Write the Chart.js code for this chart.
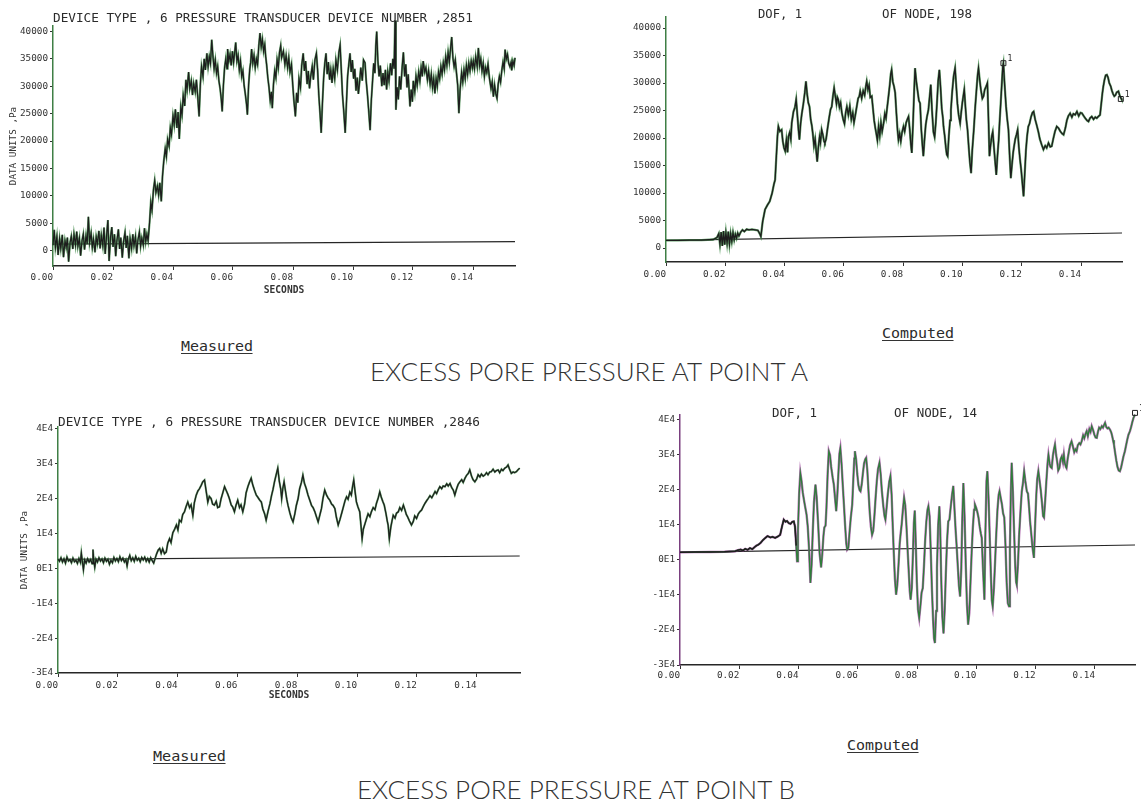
<!DOCTYPE html>
<html>
<head>
<meta charset="utf-8">
<script src="https://cdn.jsdelivr.net/npm/chart.js@4.4.0/dist/chart.umd.min.js"></script>
<style>
  body { margin: 0; width: 1141px; height: 805px; position: relative; overflow: hidden; background: #fff; color: #2b2b2b; }
  canvas { position: absolute; }
  .lbl { position: absolute; white-space: pre; font-family: "DejaVu Sans Mono", monospace; transform-origin: 0 0; }
  .ttl { font-size: 13px; line-height: 13px; }
  .dof { font-size: 12.5px; line-height: 12.5px; }
  .cap { font-size: 14px; line-height: 14px; border-bottom: 1px solid #333; }
  .head { font-family: Lato, "DejaVu Sans", sans-serif; font-weight: 300; font-size: 26px; line-height: 26px; color: #333; }
</style>
</head>
<body>
<canvas id="aMeas" width="540" height="300" style="left:0;top:0"></canvas>
<canvas id="aComp" width="541" height="300" style="left:600px;top:0"></canvas>
<canvas id="bMeas" width="540" height="305" style="left:0;top:400px"></canvas>
<canvas id="bComp" width="541" height="290" style="left:600px;top:400px"></canvas>

<div class="lbl ttl" data-w="420" style="left:53px;top:11px">DEVICE TYPE , 6 PRESSURE TRANSDUCER DEVICE NUMBER ,2851</div>
<div class="lbl dof" data-w="44" style="left:758px;top:8px">DOF, 1</div>
<div class="lbl dof" data-w="90" style="left:882px;top:8px">OF NODE, 198</div>
<div class="lbl cap" data-w="72" style="left:181px;top:339px">Measured</div>
<div class="lbl cap" data-w="72" style="left:882px;top:326px">Computed</div>
<div class="lbl head" data-w="438" style="left:370px;top:358px">EXCESS PORE PRESSURE AT POINT A</div>

<div class="lbl ttl" data-w="422" style="left:58px;top:415px">DEVICE TYPE , 6 PRESSURE TRANSDUCER DEVICE NUMBER ,2846</div>
<div class="lbl dof" data-w="45" style="left:772px;top:407px">DOF, 1</div>
<div class="lbl dof" data-w="83" style="left:894px;top:407px">OF NODE, 14</div>
<div class="lbl cap" data-w="73" style="left:153px;top:749px">Measured</div>
<div class="lbl cap" data-w="72" style="left:847px;top:738px">Computed</div>
<div class="lbl head" data-w="438" style="left:357px;top:776px">EXCESS PORE PRESSURE AT POINT B</div>

<script>
// tick values and labels
const X_TICKS = [0, 0.02, 0.04, 0.06, 0.08, 0.10, 0.12, 0.14];
const X_LABELS = ['0.00', '0.02', '0.04', '0.06', '0.08', '0.10', '0.12', '0.14'];
const Y_TICKS_A = [0, 5000, 10000, 15000, 20000, 25000, 30000, 35000, 40000];
const Y_LABELS_A = ['0', '5000', '10000', '15000', '20000', '25000', '30000', '35000', '40000'];
const Y_TICKS_B = [-30000, -20000, -10000, 0, 10000, 20000, 30000, 40000];
const Y_LABELS_B = ['-3E4', '-2E4', '-1E4', '0E1', '1E4', '2E4', '3E4', '4E4'];

// [seconds, Pa]
const A_MEASURED = [
  [0.0000,1000],[0.0004,3800],[0.0008,600],[0.0013,2600],[0.0017,-800],[0.0022,2200],[0.0026,400],[0.0031,2900],[0.0035,-1200],[0.0040,1800],
  [0.0044,600],[0.0048,2400],[0.0052,-2000],[0.0057,1500],[0.0061,2600],[0.0066,300],[0.0070,3000],[0.0075,1000],[0.0079,3500],[0.0083,800],
  [0.0088,2300],[0.0092,-900],[0.0097,1900],[0.0101,3000],[0.0105,200],[0.0110,2700],[0.0114,1200],[0.0118,6200],[0.0122,1500],[0.0127,3200],
  [0.0131,600],[0.0135,2100],[0.0140,-300],[0.0144,2500],[0.0148,1300],[0.0153,3600],[0.0157,400],[0.0161,2800],[0.0166,900],[0.0170,4200],
  [0.0174,-600],[0.0179,3000],[0.0183,5600],[0.0187,-1900],[0.0192,2600],[0.0196,4300],[0.0200,700],[0.0205,3000],[0.0209,-1000],[0.0213,1800],
  [0.0218,3900],[0.0222,300],[0.0226,2400],[0.0231,-1300],[0.0235,1600],[0.0240,3300],[0.0244,500],[0.0248,2700],[0.0253,-1400],[0.0257,2200],
  [0.0262,400],[0.0266,3000],[0.0270,900],[0.0275,2600],[0.0279,-500],[0.0283,1900],[0.0288,3400],[0.0292,800],[0.0296,2300],[0.0301,1000],
  [0.0305,4100],[0.0309,1600],[0.0313,3000],[0.0317,1800],
  [0.0322,5200],[0.0326,8800],[0.0330,7400],[0.0335,11200],[0.0339,12800],[0.0343,10600],[0.0348,11800],[0.0352,10200],[0.0356,12400],[0.0361,9000],
  [0.0365,13600],[0.0369,16200],[0.0374,18600],[0.0378,17200],[0.0382,20300],[0.0387,19100],[0.0391,22400],[0.0395,21200],[0.0400,24600],[0.0404,23000],
  [0.0408,25800],[0.0413,22400],[0.0417,25300],[0.0421,20400],[0.0426,26200],[0.0430,24800],
  [0.0434,28300],[0.0439,26400],[0.0443,31200],[0.0447,29400],[0.0452,32600],[0.0456,29600],[0.0461,31000],[0.0465,28400],[0.0469,30500],[0.0474,29000],
  [0.0478,31200],[0.0482,28400],[0.0487,24500],[0.0491,30200],[0.0495,33600],[0.0500,31800],[0.0504,35000],[0.0508,33000],[0.0513,36000],[0.0517,33600],
  [0.0521,35400],[0.0525,34200],[0.0529,38500],[0.0533,35600],[0.0537,33200],[0.0541,34800],[0.0545,32400],[0.0549,33600],[0.0553,31000],[0.0557,29600],
  [0.0561,27600],[0.0564,25400],[0.0568,30200],[0.0572,33400],[0.0576,35000],[0.0580,33200],[0.0582,36800],[0.0586,34600],[0.0590,35800],[0.0594,33800],
  [0.0598,36400],[0.0602,34400],[0.0606,36400],[0.0609,38000],[0.0613,34600],[0.0617,35600],[0.0621,33000],[0.0625,34600],[0.0629,31800],[0.0633,32800],
  [0.0637,30200],[0.0641,28600],[0.0645,26800],[0.0648,24800],[0.0652,30200],[0.0656,33200],[0.0659,34400],[0.0662,36800],[0.0666,34200],[0.0670,35600],
  [0.0674,33400],[0.0678,35000],[0.0682,34000],[0.0686,37400],[0.0690,39700],[0.0694,37200],[0.0698,38600],[0.0702,36400],[0.0706,37600],[0.0709,35400],
  [0.0712,34000],[0.0716,31600],[0.0720,29800],[0.0724,27400],[0.0728,29000],[0.0731,26000],[0.0735,30400],[0.0739,32800],[0.0743,31600],[0.0747,34800],
  [0.0751,33400],[0.0755,36200],[0.0759,37400],[0.0762,35200],[0.0768,36400],[0.0773,34000],[0.0777,35600],[0.0782,33400],[0.0786,35200],[0.0790,32600],
  [0.0795,34000],[0.0799,30400],[0.0803,27400],[0.0808,24500],[0.0812,28800],[0.0816,27000],[0.0820,31400],[0.0825,29800],[0.0829,33800],[0.0834,36000],
  [0.0838,32800],[0.0842,34600],[0.0847,30400],[0.0851,32800],[0.0855,29600],[0.0859,31800],[0.0864,33600],[0.0868,31200],[0.0873,34800],[0.0878,36000],
  [0.0882,33000],[0.0886,28400],[0.0890,25200],[0.0894,21500],[0.0898,26800],[0.0902,31400],[0.0906,34200],[0.0910,36000],[0.0914,32200],[0.0918,34400],
  [0.0922,31200],[0.0926,33000],[0.0930,30600],[0.0934,33200],[0.0939,31400],[0.0943,34800],[0.0948,33000],[0.0953,36200],[0.0957,37500],[0.0961,33000],
  [0.0965,28400],[0.0969,25600],[0.0974,21500],[0.0978,26800],[0.0982,31800],[0.0986,34000],[0.0990,36000],[0.0994,32600],[0.0998,34800],[0.1002,31400],
  [0.1006,33200],[0.1010,29200],[0.1014,31600],[0.1018,28600],[0.1022,30800],[0.1026,33400],[0.1031,31000],[0.1035,34800],[0.1040,34300],[0.1044,31000],
  [0.1048,28600],[0.1052,25800],[0.1057,22000],[0.1061,27400],[0.1065,30800],[0.1069,34200],[0.1073,32400],[0.1076,37400],[0.1079,40000],[0.1083,34600],
  [0.1087,31800],[0.1091,33800],[0.1096,30000],[0.1100,32400],[0.1104,30200],[0.1108,33000],[0.1112,29400],[0.1116,32600],[0.1120,31000],[0.1125,34200],
  [0.1129,32000],[0.1133,35000],[0.1137,33200],[0.1140,42000],[0.1143,25700],[0.1147,29800],[0.1151,27600],[0.1155,31800],[0.1159,29400],[0.1164,33600],
  [0.1168,36200],[0.1172,31800],[0.1176,34000],[0.1180,29800],[0.1184,32200],[0.1188,28200],[0.1190,26300],[0.1194,29400],[0.1198,27200],[0.1201,31000],
  [0.1206,29000],[0.1210,31800],[0.1214,30200],[0.1219,32600],[0.1223,31000],[0.1227,33400],[0.1231,31800],[0.1234,34600],[0.1239,32600],[0.1243,33400],
  [0.1248,31200],[0.1252,32800],[0.1257,30400],[0.1261,32200],[0.1265,29800],[0.1269,31400],[0.1273,28700],[0.1277,31400],[0.1281,30000],[0.1285,32600],
  [0.1289,31400],[0.1293,33600],[0.1297,32200],[0.1301,34300],[0.1305,33000],[0.1309,35400],[0.1313,33800],[0.1317,36200],[0.1321,34400],[0.1325,36800],
  [0.1329,39000],[0.1333,35200],[0.1337,33600],[0.1341,34800],[0.1345,32400],[0.1349,30200],[0.1353,25100],[0.1357,29400],[0.1362,32500],[0.1366,30800],
  [0.1370,33000],[0.1374,31400],[0.1378,33800],[0.1382,32200],[0.1386,34200],[0.1390,32800],[0.1394,34600],[0.1398,33400],[0.1401,34600],[0.1405,33200],
  [0.1409,35400],[0.1414,33600],[0.1418,37000],[0.1422,33800],[0.1426,35000],[0.1430,32800],[0.1434,34200],[0.1438,31800],[0.1442,33400],[0.1446,32500],
  [0.1450,34000],[0.1455,31400],[0.1460,29600],[0.1464,30800],[0.1468,28100],[0.1472,30200],[0.1476,28600],[0.1480,27800],[0.1484,30400],[0.1488,31800],
  [0.1492,30800],[0.1496,32900],[0.1500,34400],[0.1504,33200],[0.1507,36700],[0.1511,35000],[0.1515,35800],[0.1519,34200],[0.1523,33600],[0.1527,34400],
  [0.1529,32900],[0.1533,34600],[0.1537,33800],[0.1540,35200]
];
const A_COMPUTED = [
  [0,1380],[0.004,1400],[0.008,1420],[0.012,1450],[0.0159,1550],[0.0172,1900],[0.0178,2600],[0.0182,700],[0.0186,2900],[0.0190,400],
  [0.0194,3100],[0.0198,600],[0.0202,2800],[0.0206,900],[0.0210,3000],[0.0214,700],[0.0218,2600],[0.0222,1200],[0.0226,2800],[0.0230,1500],
  [0.0234,2500],[0.0238,1800],[0.0242,2700],[0.0246,2200],[0.0252,2900],[0.0258,3300],[0.0264,3000],[0.0272,3400],[0.0280,3300],[0.0290,3400],
  [0.0300,3300],[0.0310,3200],[0.0317,2500],[0.0320,2100],[0.0326,4800],[0.0334,7000],[0.0342,7800],[0.0350,8500],[0.0358,10000],[0.0364,11600],
  [0.0368,12400],[0.0372,16500],[0.0376,20400],[0.0379,22100],[0.0384,21200],[0.0390,21500],[0.0394,19400],[0.0398,18200],[0.0402,17600],[0.0406,19600],
  [0.0410,17400],[0.0413,20300],[0.0417,21000],[0.0421,19800],[0.0424,22700],[0.0430,24800],[0.0435,25600],[0.0439,27000],[0.0443,24200],[0.0447,21400],
  [0.0450,19700],[0.0454,22600],[0.0458,24400],[0.0463,26100],[0.0468,28200],[0.0472,30300],[0.0476,28000],[0.0480,26400],[0.0484,25700],[0.0488,23400],
  [0.0492,22200],[0.0495,20900],[0.0499,18600],[0.0503,19800],[0.0507,17400],[0.0510,15700],[0.0514,18400],[0.0518,20200],[0.0521,19200],[0.0525,21500],
  [0.0529,20600],[0.0533,19400],[0.0536,19100],[0.0540,19800],[0.0545,21800],[0.0550,23600],[0.0555,25200],[0.0559,25700],[0.0563,27600],[0.0567,29100],
  [0.0571,27600],[0.0575,26200],[0.0578,27400],[0.0581,27000],[0.0585,25600],[0.0589,26400],[0.0593,24600],[0.0598,23300],[0.0602,22600],[0.0606,24600],
  [0.0610,25700],[0.0615,24200],[0.0620,25800],[0.0625,23400],[0.0630,24600],[0.0634,22800],[0.0638,24000],[0.0643,25600],[0.0648,27200],[0.0652,27600],
  [0.0655,28500],[0.0660,27200],[0.0665,28600],[0.0670,27800],[0.0674,29400],[0.0677,30300],[0.0681,28800],[0.0685,29600],[0.0689,27400],[0.0694,27600],
  [0.0698,25400],[0.0702,23200],[0.0706,21800],[0.0709,20900],[0.0713,19600],[0.0717,22100],[0.0721,20400],[0.0725,22800],[0.0729,21200],[0.0734,22700],
  [0.0738,24400],[0.0742,23600],[0.0745,25100],[0.0750,27400],[0.0755,29800],[0.0758,31600],[0.0761,32400],[0.0765,30200],[0.0769,29400],[0.0773,28200],
  [0.0777,24600],[0.0781,21400],[0.0784,19700],[0.0788,20800],[0.0792,19400],[0.0796,21000],[0.0801,22100],[0.0805,21200],[0.0810,22800],[0.0814,23400],
  [0.0818,23900],[0.0822,21600],[0.0826,18800],[0.0829,17300],[0.0833,22400],[0.0837,28600],[0.0840,32700],[0.0844,30400],[0.0849,28400],[0.0853,26800],
  [0.0857,26300],[0.0861,21600],[0.0865,18600],[0.0868,16700],[0.0872,19800],[0.0876,22400],[0.0880,23800],[0.0885,25100],[0.0889,27400],[0.0893,29700],
  [0.0897,25200],[0.0902,21100],[0.0906,20200],[0.0910,22800],[0.0914,26400],[0.0918,30400],[0.0922,32400],[0.0926,29200],[0.0930,25400],[0.0934,23600],
  [0.0936,22100],[0.0940,20400],[0.0944,18200],[0.0947,17000],[0.0950,16700],[0.0954,20400],[0.0958,23200],[0.0961,25100],[0.0965,28200],[0.0970,31200],
  [0.0975,32700],[0.0979,29400],[0.0983,26200],[0.0987,24200],[0.0992,22700],[0.0996,24800],[0.1000,26600],[0.1006,28800],[0.1010,25600],[0.1013,23400],
  [0.1017,21500],[0.1021,18400],[0.1025,15600],[0.1029,13600],[0.1033,17800],[0.1038,21400],[0.1043,25700],[0.1047,28600],[0.1051,31400],[0.1054,32700],
  [0.1058,30600],[0.1062,28800],[0.1067,27200],[0.1071,27600],[0.1075,28800],[0.1080,29400],[0.1084,30000],[0.1088,22800],[0.1091,16700],[0.1095,18800],
  [0.1099,20400],[0.1102,21100],[0.1106,18400],[0.1110,15800],[0.1114,13300],[0.1118,16800],[0.1122,19600],[0.1125,22700],[0.1129,26400],[0.1133,30200],
  [0.1136,33000],[0.1138,33600],[0.1142,29800],[0.1147,25700],[0.1151,23400],[0.1155,21500],[0.1159,16800],[0.1163,12700],[0.1167,15200],[0.1171,17400],
  [0.1174,18500],[0.1178,19800],[0.1182,20600],[0.1186,21500],[0.1190,18400],[0.1194,16100],[0.1198,14200],[0.1202,11800],[0.1206,9400],[0.1210,13600],
  [0.1214,17800],[0.1218,20400],[0.1222,22100],[0.1226,22600],[0.1231,23800],[0.1236,24600],[0.1240,24800],[0.1245,23400],[0.1250,22400],[0.1256,21100],
  [0.1261,19800],[0.1267,18800],[0.1273,17900],[0.1279,18600],[0.1284,18200],[0.1290,19100],[0.1296,18400],[0.1301,18500],[0.1306,19800],[0.1312,21200],
  [0.1318,22100],[0.1324,21800],[0.1330,21200],[0.1336,20800],[0.1341,20600],[0.1347,21800],[0.1352,23200],[0.1357,24000],[0.1363,24500],[0.1369,23800],
  [0.1374,24400],[0.1380,24200],[0.1386,24800],[0.1392,24000],[0.1398,24600],[0.1403,24500],[0.1409,24000],[0.1414,23600],[0.1420,23200],[0.1425,23000],
  [0.1430,23600],[0.1436,23900],[0.1442,23400],[0.1448,23800],[0.1453,23600],[0.1458,23900],[0.1464,24200],[0.1468,26200],[0.1472,28200],[0.1475,29400],
  [0.1479,30600],[0.1483,31400],[0.1487,31500],[0.1491,31000],[0.1495,30000],[0.1500,29400],[0.1504,28600],[0.1508,28000],[0.1512,27600],[0.1516,27800],
  [0.1520,28300],[0.1526,28500],[0.1531,27600],[0.1535,27200],[0.1537,27000]
];
const B_MEASURED = [
  [0.0000,2600],[0.0005,2000],[0.0010,3000],[0.0015,1800],[0.0020,2700],[0.0025,1500],[0.0030,3200],[0.0035,2100],[0.0040,2500],[0.0045,1600],
  [0.0050,2900],[0.0055,1900],[0.0060,2300],[0.0065,1400],[0.0070,2800],[0.0075,1700],[0.0078,4400],[0.0082,1600],[0.0085,-400],[0.0089,2400],
  [0.0094,1500],[0.0099,2700],[0.0104,1800],[0.0109,2500],[0.0114,1300],[0.0117,5400],[0.0120,2000],[0.0123,300],[0.0127,2600],[0.0132,1800],
  [0.0137,3000],[0.0142,2100],[0.0147,2700],[0.0152,1600],[0.0157,2900],[0.0162,2000],[0.0167,2600],[0.0172,1200],[0.0177,2300],[0.0182,1600],
  [0.0187,3100],[0.0192,2100],[0.0197,2800],[0.0202,1900],[0.0207,3300],[0.0212,2200],[0.0217,2900],[0.0222,1800],[0.0227,2500],[0.0231,700],
  [0.0235,2600],[0.0240,3700],[0.0245,2200],[0.0250,3000],[0.0255,2000],[0.0260,3400],[0.0265,2300],[0.0270,2900],[0.0275,1900],[0.0280,3100],
  [0.0285,2400],[0.0290,3200],[0.0295,2000],[0.0300,2800],[0.0305,1800],[0.0310,3000],[0.0315,2200],[0.0320,1500],[0.0325,2900],[0.0330,4200],
  [0.0335,5200],[0.0340,5700],[0.0345,4300],[0.0350,5600],[0.0356,4200],[0.0362,4700],[0.0367,7200],[0.0373,8500],[0.0378,7400],[0.0384,10200],
  [0.0390,11200],[0.0396,12400],[0.0401,11000],[0.0406,13800],[0.0412,13300],[0.0417,15400],[0.0423,16200],[0.0428,17600],[0.0434,19000],[0.0440,17400],
  [0.0445,18200],[0.0451,15200],[0.0456,18800],[0.0462,20900],[0.0468,22200],[0.0473,22800],[0.0479,23800],[0.0484,24800],[0.0490,25300],[0.0495,22400],
  [0.0501,19000],[0.0506,20600],[0.0512,20000],[0.0517,18400],[0.0523,18100],[0.0529,19200],[0.0534,17400],[0.0540,17600],[0.0545,19800],[0.0551,21600],
  [0.0557,23400],[0.0562,22400],[0.0568,21200],[0.0573,20000],[0.0579,18200],[0.0584,17600],[0.0590,16200],[0.0595,18000],[0.0601,19500],[0.0607,17400],
  [0.0612,18200],[0.0618,16200],[0.0624,18400],[0.0629,21600],[0.0635,23400],[0.0640,24600],[0.0646,25800],[0.0651,24000],[0.0657,22400],[0.0663,21000],
  [0.0668,20400],[0.0674,19600],[0.0680,19000],[0.0685,17000],[0.0691,15600],[0.0696,13800],[0.0702,16200],[0.0709,18600],[0.0714,20800],[0.0719,22600],
  [0.0724,24800],[0.0729,26600],[0.0735,28700],[0.0740,25000],[0.0745,22600],[0.0748,20000],[0.0752,23000],[0.0756,24800],[0.0761,22000],[0.0765,19800],
  [0.0769,18100],[0.0775,16000],[0.0780,14500],[0.0786,13300],[0.0792,15600],[0.0797,18000],[0.0803,20000],[0.0808,22800],[0.0814,24600],[0.0819,26700],
  [0.0824,24400],[0.0830,22900],[0.0836,21000],[0.0842,19500],[0.0848,18000],[0.0853,17400],[0.0859,16200],[0.0865,14600],[0.0870,13300],[0.0876,15400],
  [0.0881,17100],[0.0886,20000],[0.0892,22400],[0.0898,21000],[0.0903,20200],[0.0909,19500],[0.0915,18400],[0.0920,18000],[0.0926,17100],[0.0931,14600],
  [0.0937,12400],[0.0943,14000],[0.0950,16200],[0.0955,17800],[0.0960,19400],[0.0965,20500],[0.0970,19800],[0.0976,21800],[0.0981,21000],[0.0985,23400],
  [0.0989,25300],[0.0994,21600],[0.0998,19000],[0.1003,17600],[0.1009,16200],[0.1013,12400],[0.1017,8500],[0.1021,11200],[0.1026,12600],[0.1032,14300],
  [0.1037,15600],[0.1043,14800],[0.1048,16200],[0.1054,17400],[0.1060,16800],[0.1065,18600],[0.1071,20200],[0.1076,21900],[0.1081,20400],[0.1086,19200],
  [0.1091,18100],[0.1097,15600],[0.1101,13600],[0.1104,12400],[0.1108,8500],[0.1113,11800],[0.1117,13600],[0.1121,15200],[0.1127,14400],[0.1132,15800],
  [0.1138,16200],[0.1143,17400],[0.1149,16600],[0.1155,18100],[0.1160,16800],[0.1165,15400],[0.1169,14800],[0.1175,13600],[0.1182,12400],[0.1188,13400],
  [0.1193,15000],[0.1199,14300],[0.1205,15600],[0.1210,16200],[0.1216,16700],[0.1222,17800],[0.1227,18600],[0.1233,19400],[0.1238,20000],[0.1244,20800],
  [0.1250,20200],[0.1255,21000],[0.1261,22000],[0.1266,21400],[0.1272,22600],[0.1277,23400],[0.1283,22800],[0.1288,23600],[0.1294,23400],[0.1300,24200],
  [0.1305,23600],[0.1311,24300],[0.1316,23200],[0.1322,22400],[0.1327,21000],[0.1333,22800],[0.1338,24000],[0.1344,24800],[0.1350,25400],[0.1355,24600],
  [0.1361,25800],[0.1366,26600],[0.1372,27200],[0.1377,28200],[0.1383,26400],[0.1388,25400],[0.1394,24800],[0.1400,25600],[0.1405,26800],[0.1411,26200],
  [0.1416,27000],[0.1422,26400],[0.1427,26700],[0.1433,27400],[0.1438,26800],[0.1444,27600],[0.1449,27700],[0.1455,28400],[0.1461,27600],[0.1466,28000],
  [0.1472,28200],[0.1477,27400],[0.1483,28400],[0.1488,28000],[0.1494,28700],[0.1500,29000],[0.1505,29600],[0.1510,28400],[0.1516,27200],[0.1522,27600],
  [0.1527,27400],[0.1533,27700],[0.1538,28200],[0.1544,28700]
];
const B_COMPUTED = [
  [0,2100],[0.005,2150],[0.010,2200],[0.015,2250],[0.0186,2400],[0.0195,2700],[0.0205,2900],[0.0212,2600],[0.0220,3100],[0.0228,2800],
  [0.0236,3300],[0.0244,3000],[0.0252,3600],[0.0258,4000],[0.0265,4300],[0.0272,4800],[0.0280,5600],[0.0288,6200],[0.0295,6700],[0.0299,6600],
  [0.0305,6300],[0.0312,6500],[0.0321,6200],[0.0330,6600],[0.0338,7100],[0.0344,9400],[0.0350,11400],[0.0356,10800],[0.0361,11000],[0.0367,10400],
  [0.0373,10200],[0.0379,10800],[0.0384,10900],[0.0388,9400],[0.0392,4000],[0.0395,-500],[0.0398,8600],[0.0402,18800],[0.0406,24700],[0.0410,22400],
  [0.0414,19200],[0.0419,16600],[0.0423,14700],[0.0427,12800],[0.0431,9400],[0.0435,3600],[0.0440,-6600],[0.0444,-1400],[0.0448,8200],[0.0452,16400],
  [0.0457,21400],[0.0461,17800],[0.0466,10200],[0.0471,1800],[0.0476,-2200],[0.0480,1600],[0.0484,6800],[0.0487,9200],[0.0491,9700],[0.0494,14600],
  [0.0498,24200],[0.0502,30900],[0.0506,29800],[0.0510,26400],[0.0515,23400],[0.0519,21400],[0.0523,17600],[0.0527,13800],[0.0531,18800],[0.0535,25600],
  [0.0538,30200],[0.0541,31800],[0.0545,27400],[0.0549,21400],[0.0553,15700],[0.0557,9800],[0.0561,4600],[0.0564,2900],[0.0568,3400],[0.0572,7800],
  [0.0576,11800],[0.0581,15700],[0.0585,23400],[0.0588,28800],[0.0590,30900],[0.0594,28600],[0.0598,24400],[0.0602,21200],[0.0606,19800],[0.0609,19500],
  [0.0613,21400],[0.0617,24600],[0.0621,27400],[0.0625,28600],[0.0628,29000],[0.0632,25400],[0.0636,19400],[0.0640,13600],[0.0644,9400],[0.0648,7100],
  [0.0652,8200],[0.0656,12600],[0.0660,17800],[0.0664,22400],[0.0668,25800],[0.0673,27600],[0.0677,24400],[0.0681,19600],[0.0686,15200],[0.0690,12400],
  [0.0693,11400],[0.0697,14800],[0.0701,18600],[0.0706,22200],[0.0710,23800],[0.0714,18400],[0.0717,11200],[0.0721,2400],[0.0725,-5400],[0.0729,-10000],
  [0.0733,-7200],[0.0737,-1800],[0.0741,4400],[0.0744,7100],[0.0748,10200],[0.0752,14200],[0.0756,17600],[0.0760,15400],[0.0764,9600],[0.0768,2600],
  [0.0772,-3800],[0.0775,-8800],[0.0778,-11400],[0.0782,-8000],[0.0786,2000],[0.0789,10400],[0.0792,14000],[0.0795,6000],[0.0799,-6400],[0.0803,-14200],
  [0.0807,-16600],[0.0811,-13200],[0.0815,-9400],[0.0819,-8100],[0.0823,-2000],[0.0827,5400],[0.0831,10800],[0.0835,14200],[0.0838,15200],[0.0842,12400],
  [0.0846,2400],[0.0850,-8600],[0.0854,-17400],[0.0857,-22400],[0.0860,-23750],[0.0864,-14600],[0.0867,-2200],[0.0871,9800],[0.0875,15200],[0.0878,8400],
  [0.0881,-4600],[0.0885,-16200],[0.0889,-21000],[0.0893,-14200],[0.0897,-3600],[0.0901,5400],[0.0905,10900],[0.0909,11400],[0.0913,14800],[0.0918,18600],
  [0.0922,21000],[0.0926,14400],[0.0930,8200],[0.0933,4300],[0.0937,-1600],[0.0941,-7400],[0.0945,-10500],[0.0949,-2400],[0.0952,10600],[0.0956,21800],
  [0.0960,12400],[0.0964,-1200],[0.0968,-12600],[0.0972,-18500],[0.0976,-15200],[0.0980,-6400],[0.0984,2200],[0.0988,9200],[0.0992,14200],[0.0995,15700],
  [0.0999,14800],[0.1003,13600],[0.1007,12000],[0.1011,9400],[0.1015,7400],[0.1018,6200],[0.1022,-2200],[0.1027,-11400],[0.1030,6400],[0.1034,22400],
  [0.1037,25200],[0.1041,17400],[0.1045,6200],[0.1049,-4800],[0.1052,-11600],[0.1055,-13300],[0.1059,-8200],[0.1063,-600],[0.1067,7400],[0.1071,14200],
  [0.1075,18400],[0.1078,19500],[0.1082,17600],[0.1086,15800],[0.1090,13200],[0.1094,12000],[0.1098,4200],[0.1102,-6400],[0.1106,-12400],[0.1110,-13300],
  [0.1113,2800],[0.1116,18600],[0.1119,27600],[0.1123,19400],[0.1127,8400],[0.1131,-1800],[0.1134,-6400],[0.1136,-7100],[0.1140,-1600],[0.1144,6800],
  [0.1149,14200],[0.1153,19400],[0.1157,21800],[0.1161,25200],[0.1165,22400],[0.1170,19500],[0.1174,18800],[0.1178,14600],[0.1181,10900],[0.1185,7400],
  [0.1189,3600],[0.1194,500],[0.1198,9800],[0.1202,18400],[0.1205,22800],[0.1209,25200],[0.1213,22600],[0.1217,19800],[0.1221,16400],[0.1225,12400],
  [0.1228,12000],[0.1232,16800],[0.1236,22400],[0.1240,27400],[0.1243,29900],[0.1247,27400],[0.1250,26400],[0.1254,26100],[0.1258,29600],[0.1261,31200],
  [0.1265,32800],[0.1269,29800],[0.1273,27600],[0.1276,25400],[0.1280,26100],[0.1284,28600],[0.1288,29400],[0.1292,27800],[0.1295,29900],[0.1298,27600],
  [0.1302,26400],[0.1304,26100],[0.1308,28800],[0.1312,30800],[0.1316,32600],[0.1321,33700],[0.1325,32400],[0.1330,30600],[0.1334,31400],[0.1338,30900],
  [0.1342,32600],[0.1347,33200],[0.1351,32800],[0.1355,33700],[0.1360,35400],[0.1364,34600],[0.1368,35800],[0.1372,36600],[0.1376,35200],[0.1381,37200],
  [0.1385,36400],[0.1389,38000],[0.1394,36800],[0.1398,35600],[0.1402,34800],[0.1406,34700],[0.1410,36400],[0.1414,37600],[0.1418,37200],[0.1423,38000],
  [0.1427,37600],[0.1431,38400],[0.1434,38950],[0.1438,37800],[0.1442,37400],[0.1446,37600],[0.1451,37000],[0.1455,36200],[0.1458,35200],[0.1461,34000],
  [0.1464,32800],[0.1468,30400],[0.1472,28200],[0.1476,26400],[0.1480,25400],[0.1484,25200],[0.1488,26200],[0.1492,27800],[0.1496,29400],[0.1501,30900],
  [0.1505,32600],[0.1509,34200],[0.1513,35600],[0.1518,36600],[0.1522,37800],[0.1526,39200],[0.1530,40400],[0.1535,41300]
];

// near-zero reference lines drawn by the plotter
const A_MEAS_REF = [[0, 1200], [0.154, 1650]];
const A_COMP_REF = [[0, 1380], [0.1538, 2730]];
const B_MEAS_REF = [[0, 2580], [0.1544, 3530]];
const B_COMP_REF = [[0, 2090], [0.1535, 4180]];

// plot symbols (square with "1")
const A_COMP_MARKS = [[0.1138, 33600], [0.1534, 27100]];
const B_COMP_MARKS = [[0.1535, 41800]];

Chart.defaults.font.family = '"DejaVu Sans Mono", monospace';
Chart.defaults.color = '#333';

const pts = arr => arr.map(([x, y]) => ({ x, y }));

// draws the little "1" beside each plot symbol
const symbolLabel = {
  id: 'symbolLabel',
  afterDatasetsDraw(chart) {
    const ctx = chart.ctx;
    chart.data.datasets.forEach((ds, i) => {
      if (!ds.symText) return;
      chart.getDatasetMeta(i).data.forEach(p => {
        ctx.save();
        ctx.font = '8px "DejaVu Sans Mono"';
        ctx.fillStyle = '#222';
        ctx.fillText(ds.symText, p.x + 4, p.y - 2);
        ctx.restore();
      });
    });
  }
};

function plot(id, c) {
  // lower "order" is painted on top
  const datasets = [
    { data: pts(c.ref), borderColor: '#262626', borderWidth: 1.2, order: 5 },
    { data: pts(c.series), borderColor: c.under, borderWidth: c.underW, order: 4 },
    { data: pts(c.series), borderColor: c.over, borderWidth: c.overW, order: 3 }
  ];
  if (c.darkUntil) {
    // the quiet lead-in of this trace is plotted in black
    datasets.push({ data: pts(c.series.filter(p => p[0] <= c.darkUntil)), borderColor: '#1d1d1d', borderWidth: 1.5, order: 2 });
  }
  if (c.marks) {
    datasets.push({ data: pts(c.marks), showLine: false, pointStyle: 'rect', pointRadius: 3.5, order: 1,
      borderColor: '#222', borderWidth: 1, backgroundColor: 'rgba(0,0,0,0)', symText: '1' });
  }
  datasets.forEach(d => {
    if (d.pointRadius === undefined) d.pointRadius = 0;
    d.clip = false; d.tension = 0; d.fill = false;
  });

  const tickFont = { size: 9.3 };
  new Chart(document.getElementById(id), {
    type: 'line',
    data: { datasets },
    options: {
      responsive: false, animation: false, devicePixelRatio: 1, events: [],
      layout: { padding: { left: 0, top: c.padTop, right: c.padRight, bottom: 0 } },
      plugins: { legend: { display: false }, tooltip: { enabled: false } },
      scales: {
        x: {
          type: 'linear', min: 0, max: c.xMax,
          afterFit: s => { s.height = c.xAxisH; },
          afterBuildTicks: s => { s.ticks = X_TICKS.map(v => ({ value: v })); },
          ticks: { autoSkip: false, maxRotation: 0, align: 'end', padding: c.xPad, font: tickFont, color: '#333',
                   callback: (v, i) => X_LABELS[i] },
          grid: { drawOnChartArea: false, tickLength: 4, color: '#333' },
          border: { color: '#262626', width: 1.5 },
          title: { display: !!c.xTitle, text: c.xTitle, font: { size: 9.6, weight: 'bold' }, color: '#333',
                   padding: { top: 0, bottom: c.xTitlePad } }
        },
        y: {
          type: 'linear', min: c.yMin, max: c.yMax,
          afterFit: s => { s.width = c.yAxisW; },
          afterBuildTicks: s => { s.ticks = c.yTicks.map(v => ({ value: v })); },
          ticks: { autoSkip: false, padding: 2, font: tickFont, color: '#333',
                   callback: (v, i) => c.yLabels[i] },
          grid: { drawOnChartArea: false, tickLength: 3, color: '#333' },
          border: { color: c.yAxisColor, width: 1.5 },
          title: { display: !!c.yTitle, text: c.yTitle, font: { size: 9.3 }, color: '#333',
                   padding: { top: c.yTitlePad, bottom: 0 } }
        }
      }
    },
    plugins: [symbolLabel]
  });
}

plot('aMeas', {
  series: A_MEASURED, ref: A_MEAS_REF,
  xMax: 0.154, yMin: -2800, yMax: 41000, yTicks: Y_TICKS_A, yLabels: Y_LABELS_A,
  padTop: 26, padRight: 25, yAxisW: 53, xAxisH: 34, xPad: 2,
  xTitle: 'SECONDS', xTitlePad: 3.8, yTitle: 'DATA UNITS ,Pa', yTitlePad: 8.4,
  yAxisColor: '#3f7f45', under: 'rgba(64,140,72,0.8)', underW: 2.1, over: '#1d1d1d', overW: 1.2
});
plot('aComp', {
  series: A_COMPUTED, ref: A_COMP_REF, marks: A_COMP_MARKS,
  xMax: 0.1538, yMin: -2540, yMax: 42000, yTicks: Y_TICKS_A, yLabels: Y_LABELS_A,
  padTop: 17, padRight: 19, yAxisW: 66, xAxisH: 38, xPad: 3,
  yAxisColor: '#3f7f45', under: 'rgba(64,140,72,0.8)', underW: 2.3, over: '#1d1d1d', overW: 1.3
});
plot('bMeas', {
  series: B_MEASURED, ref: B_MEAS_REF,
  xMax: 0.1545, yMin: -30000, yMax: 40490, yTicks: Y_TICKS_B, yLabels: Y_LABELS_B,
  padTop: 27, padRight: 20, yAxisW: 58, xAxisH: 32, xPad: 3,
  xTitle: 'SECONDS', xTitlePad: 3.5, yTitle: 'DATA UNITS ,Pa', yTitlePad: 19.4,
  yAxisColor: '#3f7f45', under: 'rgba(64,140,72,0.8)', underW: 2.0, over: '#1d1d1d', overW: 1.2
});
plot('bComp', {
  series: B_COMPUTED, ref: B_COMP_REF, marks: B_COMP_MARKS, darkUntil: 0.0392,
  xMax: 0.1535, yMin: -30000, yMax: 41200, yTicks: Y_TICKS_B, yLabels: Y_LABELS_B,
  padTop: 15, padRight: 6, yAxisW: 80, xAxisH: 25, xPad: 1,
  yAxisColor: '#7a3f7f', under: 'rgba(150,60,150,0.75)', underW: 2.4, over: '#2f7d3a', overW: 1.3
});

// stretch each text label to the width it has in the scan
document.querySelectorAll('.lbl[data-w]').forEach(el => {
  const w = el.getBoundingClientRect().width;
  el.style.transform = 'scaleX(' + (Number(el.dataset.w) / w) + ')';
});
</script>
</body>
</html>
